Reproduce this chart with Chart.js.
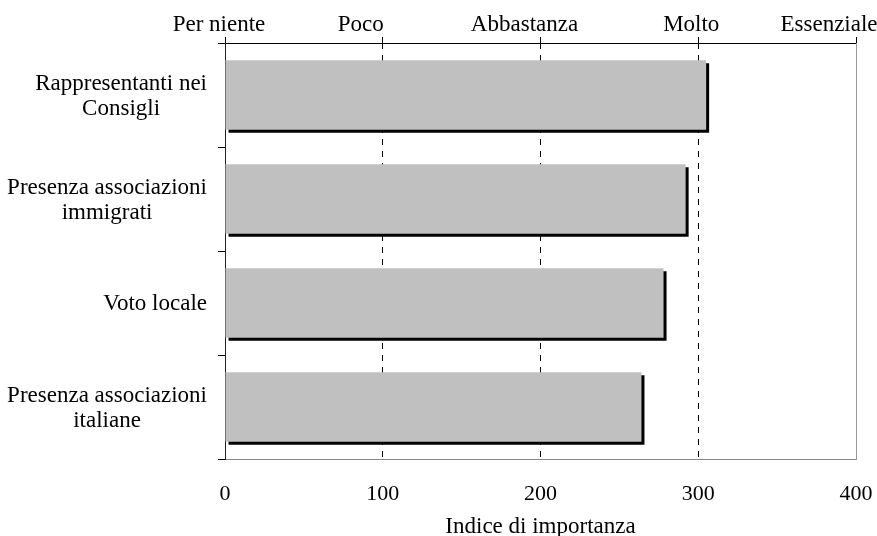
<!DOCTYPE html>
<html>
<head>
<meta charset="utf-8">
<script src="https://cdn.jsdelivr.net/npm/chart.js@4.4.1/dist/chart.umd.min.js"></script>
<style>
  html, body { margin: 0; padding: 0; background: #fff; }
</style>
</head>
<body>
<canvas id="grafica" width="877" height="536"></canvas>
<script>
// Dati
const categorie = [
  ['Rappresentanti nei', 'Consigli'],
  ['Presenza associazioni', 'immigrati'],
  ['Voto locale'],
  ['Presenza associazioni', 'italiane']
];
const indice = [305, 292, 278, 264];
const valoriAsse = [0, 100, 200, 300, 400];
const etichetteSopra = ['Per niente', 'Poco', 'Abbastanza', 'Molto', 'Essenziale'];
const titoloAsse = 'Indice di importanza';

// Stile
const FONT = "'Liberation Serif', 'Times New Roman', serif";
const SIZE = 23;
const fontTesto = { family: FONT, size: SIZE };
const fontNumeri = { family: FONT, size: 22 };
const spostamentoSopra = [-6, -22, -16, -7, -27];

// Ombra nera sotto le barre
const ombra = {
    id: 'ombra',
    beforeDatasetDraw(chart) {
        const ctx = chart.ctx;
        ctx.save();
        ctx.shadowColor = '#000';
        ctx.shadowOffsetX = 3;
        ctx.shadowOffsetY = 3;
        ctx.shadowBlur = 0;
    },
    afterDatasetDraw(chart) {
        chart.ctx.restore();
    }
};

// Etichette: categorie (righe centrate nel blocco) e scala qualitativa in alto
const etichette = {
    id: 'etichette',
    afterDraw(chart) {
        const ctx = chart.ctx;
        const y = chart.scales.y;
        const top = chart.scales.x2;
        const destra = y.right - 18;
        const alt = 25;
        ctx.save();
        ctx.font = SIZE + 'px ' + FONT;
        ctx.fillStyle = '#000';
        ctx.textAlign = 'center';
        ctx.textBaseline = 'middle';
        y.ticks.forEach((t, i) => {
            const righe = categorie[i];
            const larg = Math.max(...righe.map(r => ctx.measureText(r).width));
            const cx = destra - larg / 2;
            const cy = y.getPixelForTick(i) + 1;
            righe.forEach((r, j) => {
                ctx.fillText(r, cx, cy + (j - (righe.length - 1) / 2) * alt);
            });
        });
        ctx.textBaseline = 'alphabetic';
        valoriAsse.forEach((v, i) => {
            ctx.fillText(etichetteSopra[i], top.getPixelForValue(v) + spostamentoSopra[i], 31);
        });
        ctx.restore();
    }
};

function setupChart() {
    const ctx = document.getElementById('grafica').getContext('2d');
    new Chart(ctx, {
        type: 'bar',
        data: {
            labels: categorie,
            datasets: [{
                data: indice,
                backgroundColor: '#c0c0c0',
                borderWidth: 0,
                barPercentage: 0.67,
                categoryPercentage: 1,
                xAxisID: 'x',
                yAxisID: 'y'
            }]
        },
        options: {
            indexAxis: 'y',
            responsive: false,
            animation: false,
            layout: { padding: { left: 0, right: 21, top: 0, bottom: -5 } },
            plugins: {
                legend: { display: false },
                tooltip: { enabled: false }
            },
            scales: {
                x: {
                    type: 'linear',
                    position: 'bottom',
                    min: 0,
                    max: 400,
                    ticks: { stepSize: 100, font: fontNumeri, color: '#000', padding: 22 },
                    grid: {
                        drawTicks: false,
                        lineWidth: 1,
                        color: (c) => (c.tick && c.tick.value > 0 && c.tick.value < 400) ? '#000' : 'rgba(0,0,0,0)'
                    },
                    border: { color: '#888', dash: [6, 6] },
                    title: {
                        display: true,
                        text: titoloAsse,
                        font: fontTesto,
                        color: '#000',
                        padding: { top: 0, bottom: 0 }
                    },
                    afterFit(s) {
                        s.height = 82;
                        s.paddingLeft = 0;
                        s.paddingRight = 0;
                    }
                },
                x2: {
                    type: 'linear',
                    position: 'top',
                    min: 0,
                    max: 400,
                    ticks: { stepSize: 100, display: false },
                    grid: { drawOnChartArea: false, tickLength: 6, color: '#000' },
                    border: { color: '#000' },
                    afterFit(s) {
                        s.height = 43;
                        s.paddingLeft = 0;
                        s.paddingRight = 0;
                    }
                },
                y: {
                    type: 'category',
                    position: 'left',
                    ticks: { display: false },
                    grid: { drawOnChartArea: false, tickLength: 7, color: '#000', offset: true },
                    border: { color: '#222' },
                    afterFit(s) {
                        s.width = 225;
                    }
                },
                y2: {
                    type: 'category',
                    position: 'right',
                    ticks: { display: false },
                    grid: { display: false },
                    border: { color: '#999' },
                    afterFit(s) {
                        s.width = 0;
                    }
                }
            }
        },
        plugins: [ombra, etichette]
    });
}

document.addEventListener('DOMContentLoaded', setupChart);
</script>
</body>
</html>
